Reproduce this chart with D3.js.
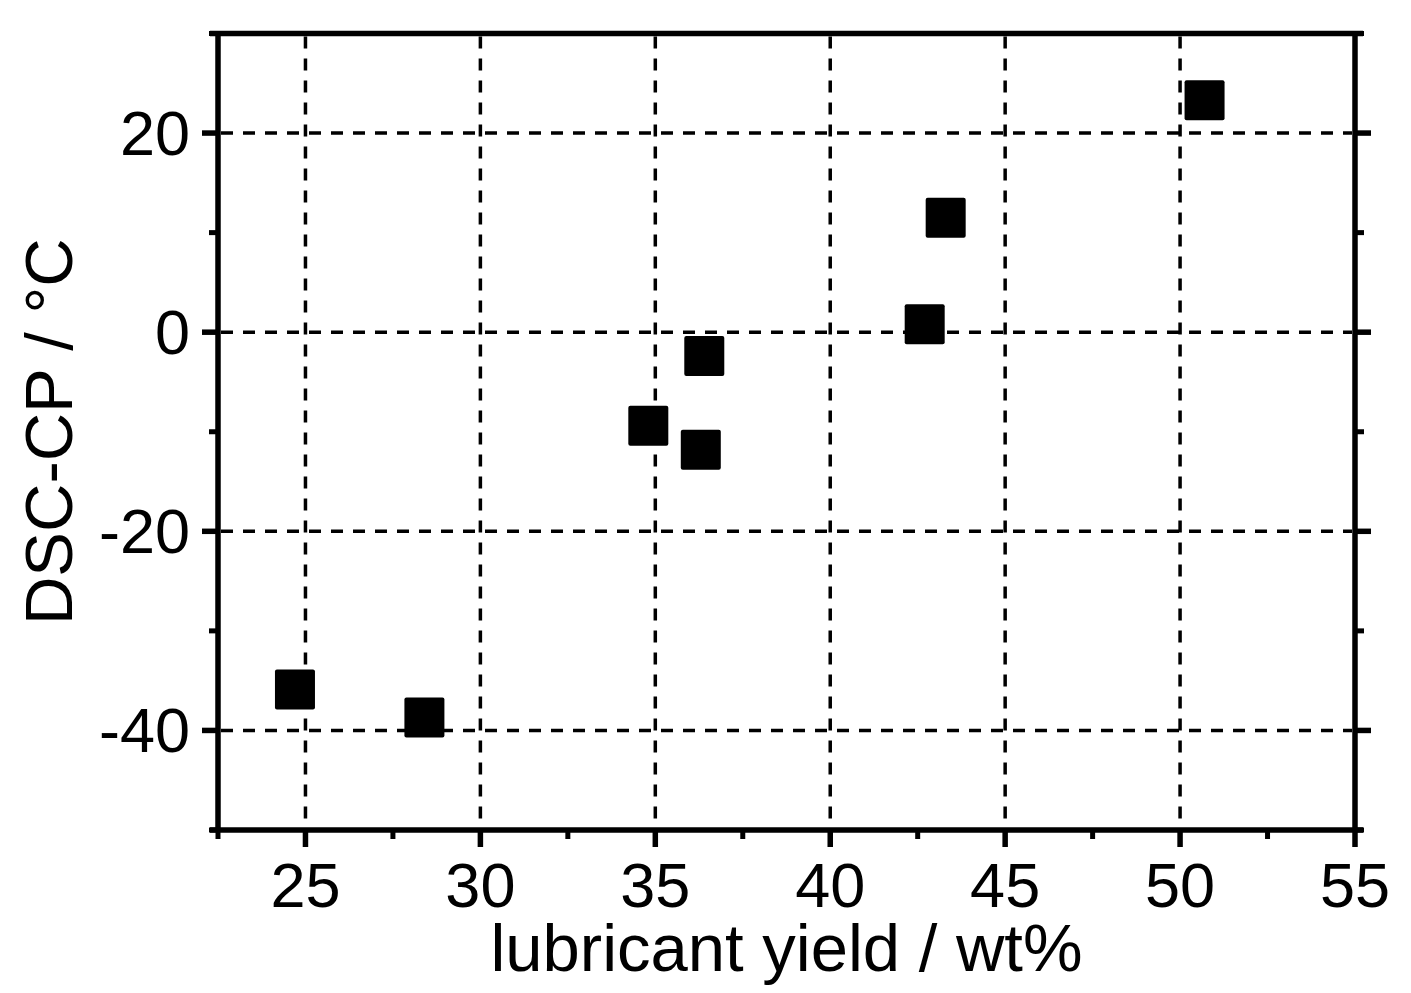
<!DOCTYPE html>
<html><head>
<meta charset="utf-8">
<title>DSC-CP vs lubricant yield</title>
<script src="https://d3js.org/d3.v7.min.js"></script>
<style>
  body { margin: 0; background: #ffffff; }
  svg text { font-family: "Liberation Sans", Arial, sans-serif; fill: #000; }
  .tick-label { font-size: 63px; }
  .axis-title { font-size: 67px; }
  .grid { stroke: #000; stroke-width: 3.5; stroke-dasharray: 12,10; fill: none; }
  .frame { stroke: #000; stroke-width: 5.5; fill: none; }
</style>
</head>
<body>
<svg id="chart" width="1411" height="993"></svg>
<script>
// data
const yieldWt = [24.7, 28.4, 34.8, 36.3, 36.4, 42.7, 43.3, 50.7];
const dscCP   = [-35.9, -38.7, -9.4, -11.8, -2.4, 0.8, 11.5, 23.3];
const xMajor = [25, 30, 35, 40, 45, 50, 55];
const xMinor = [22.5, 27.5, 32.5, 37.5, 42.5, 47.5, 52.5];
const yMajor = [-40, -20, 0, 20];
const yMinor = [-50, -30, -10, 10, 30];

const svg = d3.select("#chart");
const margin = {top: 33.5, right: 56, bottom: 163, left: 218};
const width = +svg.attr("width");
const height = +svg.attr("height");
const w = width - margin.left - margin.right;
const h = height - margin.top - margin.bottom;

const x = d3.scaleLinear().domain([22.5, 55]).range([margin.left, margin.left + w]);
const y = d3.scaleLinear().domain([-50, 30]).range([margin.top + h, margin.top]);

const x0 = x.range()[0], x1 = x.range()[1];
const y0 = y.range()[0], y1 = y.range()[1];

// gridlines
svg.append("g").selectAll("line").data(xMajor.filter(d => d < 55))
  .join("line").attr("class", "grid")
  .attr("x1", d => x(d)).attr("x2", d => x(d))
  .attr("y1", y1 + 3).attr("y2", y0 - 3);
svg.append("g").selectAll("line").data(yMajor)
  .join("line").attr("class", "grid")
  .attr("x1", x0 + 3).attr("x2", x1 - 3)
  .attr("y1", d => y(d)).attr("y2", d => y(d));

// ticks (outward on left, right, bottom)
const ticks = svg.append("g").attr("stroke", "#000");
ticks.selectAll("line.xmaj").data(xMajor).join("line").attr("class", "xmaj")
  .attr("stroke-width", 5.5)
  .attr("x1", d => x(d)).attr("x2", d => x(d)).attr("y1", y0).attr("y2", y0 + 17);
ticks.selectAll("line.xmin").data(xMinor).join("line").attr("class", "xmin")
  .attr("stroke-width", 5)
  .attr("x1", d => x(d)).attr("x2", d => x(d)).attr("y1", y0).attr("y2", y0 + 9);
[[x0, -1], [x1, 1]].forEach(([px, dir]) => {
  ticks.append("g").selectAll("line").data(yMajor).join("line")
    .attr("stroke-width", 5.5)
    .attr("x1", px).attr("x2", px + dir * 16).attr("y1", d => y(d)).attr("y2", d => y(d));
  ticks.append("g").selectAll("line").data(yMinor).join("line")
    .attr("stroke-width", 5)
    .attr("x1", px).attr("x2", px + dir * 9).attr("y1", d => y(d)).attr("y2", d => y(d));
});

// frame
svg.append("line").attr("class", "frame").attr("x1", x0 - 8).attr("x2", x1 + 8).attr("y1", y1).attr("y2", y1);
svg.append("line").attr("class", "frame").attr("x1", x0 - 8).attr("x2", x1 + 8).attr("y1", y0).attr("y2", y0);
svg.append("line").attr("class", "frame").attr("x1", x0).attr("x2", x0).attr("y1", y1).attr("y2", y0);
svg.append("line").attr("class", "frame").attr("x1", x1).attr("x2", x1).attr("y1", y1).attr("y2", y0);

// tick labels
svg.append("g").selectAll("text").data(xMajor).join("text")
  .attr("class", "tick-label").attr("text-anchor", "middle")
  .attr("x", d => x(d)).attr("y", y0 + 77)
  .text(d => d);
svg.append("g").selectAll("text").data(yMajor).join("text")
  .attr("class", "tick-label").attr("text-anchor", "end")
  .attr("x", x0 - 28).attr("y", d => y(d) + 22)
  .text(d => d);

// axis titles
svg.append("text").attr("class", "axis-title").attr("text-anchor", "middle")
  .attr("x", (x0 + x1) / 2).attr("y", 971)
  .text("lubricant yield / wt%");
svg.append("text").attr("class", "axis-title").attr("text-anchor", "middle")
  .attr("transform", `translate(72,${(y0 + y1) / 2}) rotate(-90)`)
  .text("DSC-CP / °C");

// points
const s = 40;
svg.append("g").selectAll("rect").data(yieldWt.map((v, i) => [v, dscCP[i]]))
  .join("rect")
  .attr("x", d => x(d[0]) - s / 2).attr("y", d => y(d[1]) - s / 2)
  .attr("width", s).attr("height", s).attr("rx", 2)
  .attr("fill", "#000");
</script>
</body>
</html>
